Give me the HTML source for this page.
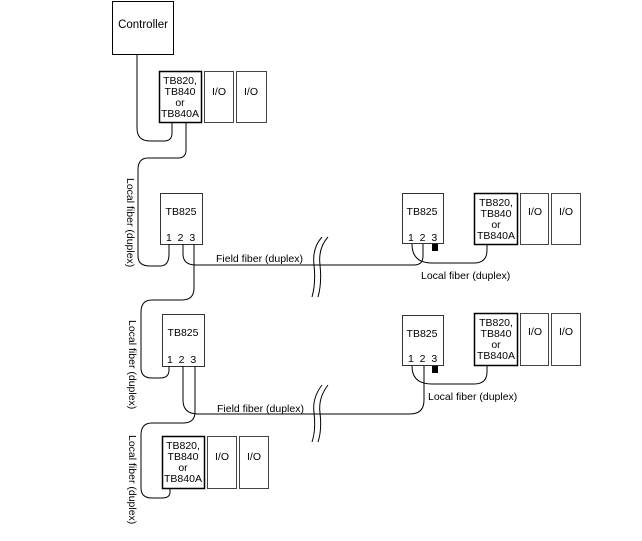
<!DOCTYPE html>
<html><head><meta charset="utf-8"><style>
html,body{margin:0;padding:0;background:#fff;}
svg{display:block;}
text{font-family:"Liberation Sans",Arial,sans-serif;font-size:10.5px;fill:#000;}
</style></head><body>
<svg width="642" height="541" viewBox="0 0 642 541" xmlns="http://www.w3.org/2000/svg">
<g fill="none" stroke="#000" stroke-width="1">
<rect x="112.5" y="1.5" width="61" height="53"/>
<rect x="159.5" y="71.5" width="42" height="51" stroke-width="1.5"/>
<rect x="204.5" y="71.5" width="29" height="51" stroke="#444"/>
<rect x="236.5" y="71.5" width="30" height="51" stroke="#444"/>
<rect x="160.5" y="193.5" width="42" height="51" stroke="#333"/>
<rect x="402.5" y="193.5" width="41" height="50" stroke="#333"/>
<rect x="474.5" y="193.5" width="43" height="51" stroke-width="1.5"/>
<rect x="520.5" y="193.5" width="28" height="51" stroke="#444"/>
<rect x="551.5" y="193.5" width="29" height="51" stroke="#444"/>
<rect x="162.5" y="314.5" width="42" height="52" stroke="#333"/>
<rect x="402.5" y="315.5" width="41" height="50" stroke="#333"/>
<rect x="474.5" y="313.5" width="43" height="52" stroke-width="1.5"/>
<rect x="520.5" y="313.5" width="28" height="52" stroke="#444"/>
<rect x="551.5" y="313.5" width="29" height="52" stroke="#444"/>
<rect x="162.5" y="436.5" width="42" height="52" stroke-width="1.5"/>
<rect x="207.5" y="436.5" width="29" height="52" stroke="#444"/>
<rect x="239.5" y="436.5" width="29" height="52" stroke="#444"/>

<path d="M137 54 V128 Q137 141 150 141 H164 Q172 141 172 133 V122"/>
<path d="M186 122 V150 Q186 158 178 158 H148 Q138 158 138 170 V256 Q138 266 150 266 H160 Q169 266 169 254 V244"/>
<path d="M183 244 V254 Q183 265 196 265 H414 Q423 265 423 256 V244"/>
<path d="M194 244 V288 Q194 300 182 300 H152 Q141 300 141 312 V368 Q141 378 152 378 H160 Q169 378 169 370 V366"/>
<path d="M412 244 Q412 263 432 263 H474 Q487 263 487 250 V244"/>
<path d="M183 366 V400 Q183 414 198 414 H410 Q424 414 424 400 V366"/>
<path d="M412 366 Q412 384 432 384 H474 Q487 384 487 372 V365"/>
<path d="M195 366 V412 Q195 423 183 423 H152 Q141 423 141 435 V488 Q141 498 152 498 H162 Q170 498 170 492 V488"/>
</g>
<rect x="432" y="244" width="6" height="7" fill="#000"/>
<rect x="432" y="366" width="6" height="7" fill="#000"/>
<g fill="none" stroke="#000" stroke-width="1">
<path d="M322 237 Q312 248 314 265 Q316 283 312 297"/>
<path d="M328 237 Q318 248 320 265 Q322 283 318 297"/>
<path d="M322 385 Q312 398 314 413 Q316 430 312 442"/>
<path d="M328 385 Q318 398 320 413 Q322 430 318 442"/>
</g>
<text x="143" y="28" text-anchor="middle" style="font-size:11.5px">Controller</text>
<g text-anchor="middle">
<text x="180" y="84">TB820,</text><text x="180" y="95">TB840</text><text x="180" y="106">or</text><text x="180" y="117">TB840A</text>
<text x="219" y="95">I/O</text><text x="251" y="95">I/O</text>
<text x="181" y="215">TB825</text>
<text x="422" y="215">TB825</text>
<text x="496" y="206">TB820,</text><text x="496" y="217">TB840</text><text x="496" y="228">or</text><text x="496" y="239">TB840A</text>
<text x="535" y="215">I/O</text><text x="566" y="215">I/O</text>
<text x="183" y="336">TB825</text>
<text x="422" y="337">TB825</text>
<text x="496" y="326">TB820,</text><text x="496" y="337">TB840</text><text x="496" y="348">or</text><text x="496" y="359">TB840A</text>
<text x="535" y="335">I/O</text><text x="566" y="335">I/O</text>
<text x="183" y="449">TB820,</text><text x="183" y="460">TB840</text><text x="183" y="471">or</text><text x="183" y="482">TB840A</text>
<text x="222" y="460">I/O</text><text x="254" y="460">I/O</text>
</g>
<text x="166" y="241">1&#160; 2&#160; 3</text>
<text x="408" y="241">1&#160; 2&#160; 3</text>
<text x="167" y="363">1&#160; 2&#160; 3</text>
<text x="408" y="362">1&#160; 2&#160; 3</text>
<text x="216" y="262">Field fiber (duplex)</text>
<text x="217" y="412">Field fiber (duplex)</text>
<text x="421" y="279">Local fiber (duplex)</text>
<text x="428" y="400">Local fiber (duplex)</text>
<text transform="translate(127,178) rotate(90)">Local fiber (duplex)</text>
<text transform="translate(129,320) rotate(90)">Local fiber (duplex)</text>
<text transform="translate(129,435) rotate(90)">Local fiber (duplex)</text>
</svg>
</body></html>
